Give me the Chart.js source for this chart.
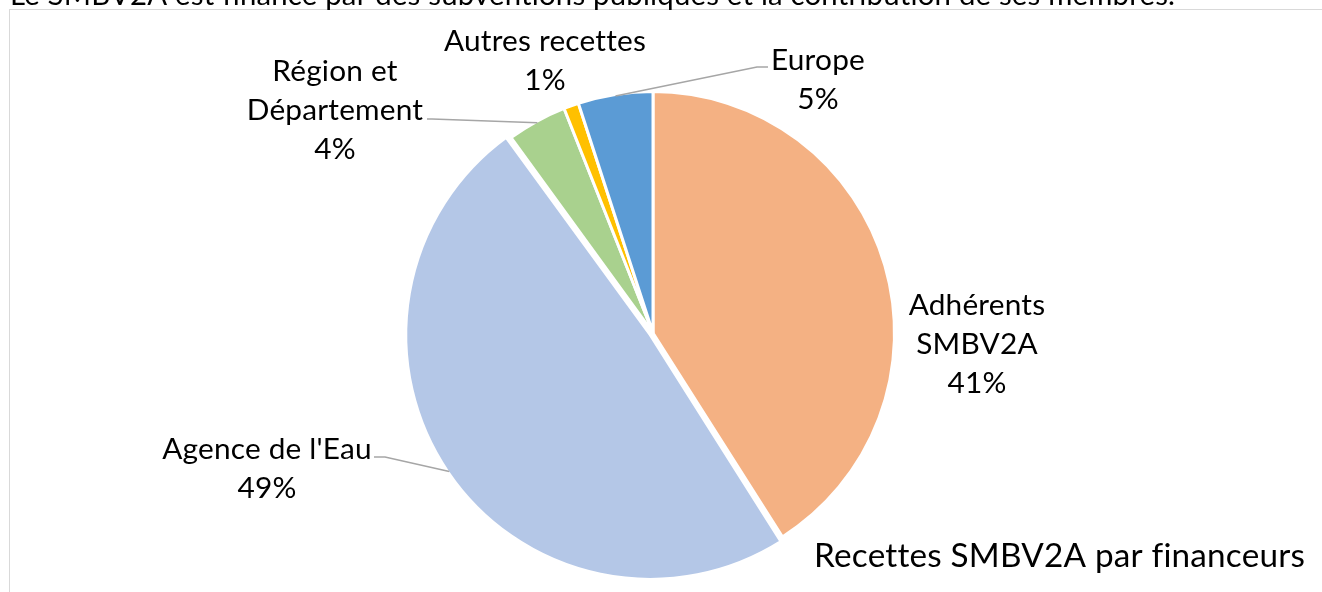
<!DOCTYPE html>
<html><head><meta charset="utf-8">
<script src="https://cdn.jsdelivr.net/npm/chart.js@4.4.1/dist/chart.umd.min.js"></script>
<style>
html,body{margin:0;padding:0;background:#fff;overflow:hidden;width:1322px;height:592px;}
#frame{position:absolute;left:9px;top:9px;width:1330px;height:600px;border:1px solid #d9d9d9;}
canvas{position:absolute;left:0;top:0;}
</style></head><body>
<div id="frame"></div>
<canvas id="c" width="1322" height="592"></canvas>
<script>
// ---- data ----
const categories = ["Adhérents SMBV2A", "Agence de l'Eau", "Région et Département", "Autres recettes", "Europe"];
const shares = [41, 49, 4, 1, 5];
const labelLines = [["Adhérents", "SMBV2A"], ["Agence de l'Eau"], ["Région et", "Département"], ["Autres recettes"], ["Europe"]];
const colors = ["#F4B183", "#B4C7E7", "#A9D18E", "#FFC000", "#5B9BD5"];
const explode = [0, 13, 0, 0, 0];
const chartTitle = "Recettes SMBV2A par financeurs";
const headText = "Le SMBV2A est financé par des subventions publiques et la contribution de ses membres.";

// label layout relative to the pie centre (px)
const labelPlace = [
  {dx: 324, dy: 10, leader: null},
  {dx: -386, dy: 135, leader: [[-268, 124], [-279, 124]]},
  {dx: -318, dy: -224, leader: [[-221, -214], [-226, -214]]},
  {dx: -108, dy: -273, leader: null},
  {dx: 165, dy: -254, leader: [[104, -266], [115, -266]]}
];

const FAMILY = "Lato, 'Open Sans', sans-serif";
const BORDER = 3;

function noLig(ctx) { if ('letterSpacing' in ctx) ctx.letterSpacing = '0.2px'; }

function fitSize(ctx, text, target) {
  ctx.font = '100px ' + FAMILY;
  noLig(ctx);
  const w = ctx.measureText(text).width;
  return 100 * target / w;
}

const labelPlugin = {
  id: 'excelLabels',
  afterDatasetsDraw(chart) {
    const ctx = chart.ctx;
    const meta = chart.getDatasetMeta(0);
    const total = shares.reduce((a, b) => a + b, 0);
    ctx.save();
    noLig(ctx);
    const lblSize = fitSize(ctx, "Autres recettes", 200);
    const lineH = 39;
    meta.data.forEach((el, i) => {
      const p = labelPlace[i];
      const cx = el.x, cy = el.y;
      if (p.leader) {
        const mid = (el.startAngle + el.endAngle) / 2;
        const circ = el.endAngle - el.startAngle;
        const off = (explode[i] || 0) / 4;
        const shift = off * (1 + (1 - Math.sin(Math.min(Math.PI, circ))));
        const r = el.outerRadius - BORDER / 2 + shift;
        ctx.beginPath();
        ctx.moveTo(cx + Math.cos(mid) * r, cy + Math.sin(mid) * r);
        p.leader.forEach(pt => ctx.lineTo(cx + pt[0], cy + pt[1]));
        ctx.strokeStyle = '#a6a6a6';
        ctx.lineWidth = 1.5;
        ctx.stroke();
      }
      const lines = labelLines[i].concat([Math.round(shares[i] / total * 100) + '%']);
      ctx.font = lblSize.toFixed(2) + 'px ' + FAMILY;
      ctx.fillStyle = '#000';
      ctx.textAlign = 'center';
      ctx.textBaseline = 'alphabetic';
      const capHalf = lblSize * 0.72 / 2;
      lines.forEach((t, k) => {
        const y = cy + p.dy + (k - (lines.length - 1) / 2) * lineH + capHalf;
        ctx.fillText(t, cx + p.dx, y);
      });
    });
    const tSize = fitSize(ctx, chartTitle, 487);
    ctx.font = tSize.toFixed(2) + 'px ' + FAMILY;
    ctx.fillStyle = '#000';
    ctx.textAlign = 'right';
    ctx.fillText(chartTitle, 1305, 567);
    const hSize = fitSize(ctx, headText, 1153);
    ctx.font = hSize.toFixed(2) + 'px ' + FAMILY;
    ctx.textAlign = 'left';
    ctx.fillText(headText, 10, 5);
    ctx.restore();
  }
};

new Chart(document.getElementById('c'), {
  type: 'pie',
  data: {
    labels: categories,
    datasets: [{
      data: shares,
      backgroundColor: colors,
      borderColor: '#ffffff',
      borderWidth: BORDER,
      offset: explode
    }]
  },
  options: {
    responsive: false,
    animation: false,
    radius: 240 + BORDER / 2,
    layout: {padding: {left: 0, right: 16, top: 74, bottom: 0}},
    plugins: {legend: {display: false}, tooltip: {enabled: false}, title: {display: false}}
  },
  plugins: [labelPlugin]
});
</script>
</body></html>
